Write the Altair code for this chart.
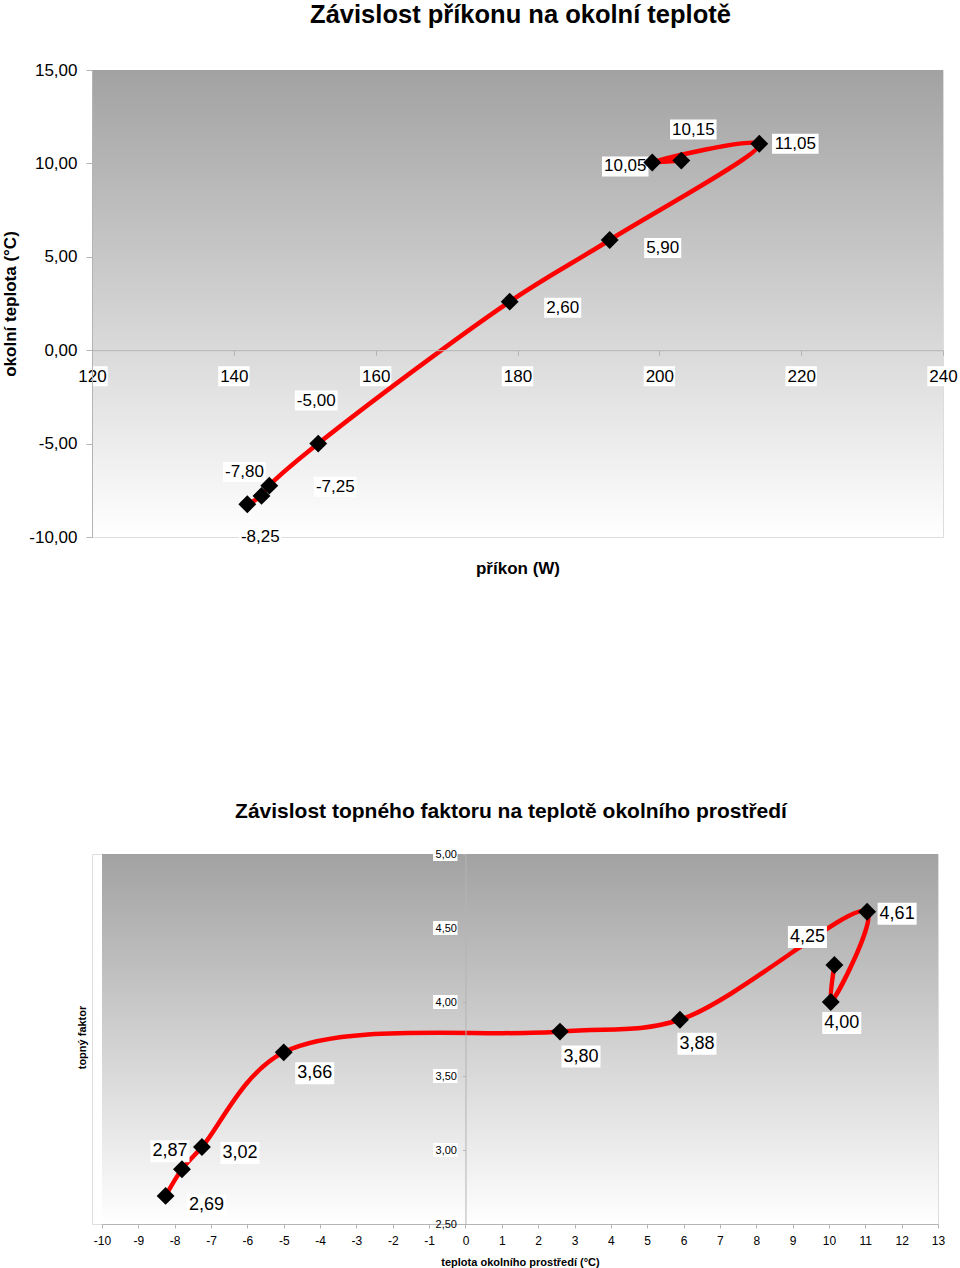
import altair as alt
import pandas as pd

# ---------------- data ----------------
temperature = [-8.25, -7.80, -7.25, -5.00, 2.60, 5.90, 11.05, 10.05, 10.15]
power_w = [141.9, 143.9, 145.0, 151.9, 178.9, 193.0, 214.1, 199.0, 203.1]
cop = [2.69, 2.87, 3.02, 3.66, 3.80, 3.88, 4.61, 4.00, 4.25]

power_ticks = [120, 140, 160, 180, 200, 220, 240]
temp_ticks = [-10, -5, 0, 5, 10, 15]
cop_ticks = [2.5, 3.0, 3.5, 4.0, 4.5, 5.0]
temp_x_ticks = list(range(-10, 14))

# ---------------- layout (label offsets in px) ----------------
top_label_offsets = [(13, 33), (-17, -24), (66, 1), (-2, -43), (53, 6), (53, 8), (36, 0), (-27, 4), (12, -31)]
bottom_label_offsets = [(41, 9), (-12, -18), (38, 6), (31, 21), (21, 25), (17, 24), (30, 2), (11, 21), (-27, -28)]

FONT = "Liberation Sans"
W1, H1 = 851, 467
W2, H2 = 846, 370
X2_LEFT = 10  # bottom plot starts 10px right of the top one

def fmt(v):
    return f"{v:.2f}".replace(".", ",")

df = pd.DataFrame({"idx": list(range(len(temperature))), "p": power_w, "t": temperature, "cop": cop})
df["t_lbl"] = [fmt(v) for v in temperature]
df["cop_lbl"] = [fmt(v) for v in cop]

def text_width(s, size):
    w = 0.0
    for ch in s:
        if ch.isdigit():
            w += 0.556
        elif ch == ",":
            w += 0.278
        elif ch == "-":
            w += 0.333
        else:
            w += 0.556
    return w * size

def box_shape(w, h):
    r = h / w
    return f"M-1,-{r:.4f}H1V{r:.4f}H-1Z"

grad = alt.Gradient(
    gradient="linear",
    stops=[alt.GradientStop(color="#a2a2a2", offset=0), alt.GradientStop(color="#ffffff", offset=1)],
    x1=0, x2=0, y1=0, y2=1,
)
one = pd.DataFrame({"a": [0]})
GRAY = "#b4b4b4"

# ---------------- top chart ----------------
x1 = alt.X(
    "p:Q",
    scale=alt.Scale(domain=[120, 240], nice=False, zero=False),
    axis=alt.Axis(
        values=power_ticks, format="d", orient="bottom", offset=-186.8,
        title="příkon (W)", titleFontSize=17, titleFontWeight="bold", titleFont=FONT,
        titleX=W1 / 2, titleY=218, titleBaseline="middle", titleAlign="center",
        labelFontSize=17, labelFont=FONT, labelColor="black", labelBaseline="middle",
        labelPadding=21, tickSize=5, tickColor=GRAY, domainColor=GRAY,
        grid=False, labelFlush=False, labelOverlap=False, zindex=1,
    ),
)
y1 = alt.Y(
    "t:Q",
    scale=alt.Scale(domain=[-10, 15], nice=False, zero=False),
    axis=alt.Axis(
        values=temp_ticks, format=".2f",
        title="okolní teplota (°C)", titleFontSize=17, titleFontWeight="bold", titleFont=FONT,
        titleX=-82, titleY=H1 / 2, titleBaseline="middle", titleAlign="center", titleAngle=270,
        labelFontSize=17, labelFont=FONT, labelColor="black",
        labelPadding=9, tickSize=6, tickColor=GRAY, domainColor=GRAY,
        grid=False, labelFlush=False, labelOverlap=False, zindex=1,
    ),
)

top_layers = [
    alt.Chart(one).mark_rect(color=grad).encode(
        x=alt.value(0), x2=alt.value(W1), y=alt.value(0), y2=alt.value(H1)
    )
]
# white boxes behind the x tick labels
tw = text_width("120", 17) + 3
top_layers.append(
    alt.Chart(pd.DataFrame({"p": power_ticks, "t": [0] * len(power_ticks)}))
    .mark_point(shape=box_shape(tw, 20), size=tw * tw, filled=True, color="white", opacity=1, yOffset=26)
    .encode(x=x1, y=y1)
)
top_layers.append(
    alt.Chart(df).mark_line(color="#ff0000", strokeWidth=4.5, interpolate="catmull-rom")
    .encode(x=x1, y=y1, order="idx:Q")
)
for i, (dx, dy) in enumerate(top_label_offsets):
    row = df.iloc[[i]]
    w = text_width(row["t_lbl"].iloc[0], 17) + 4
    top_layers.append(
        alt.Chart(row).mark_point(shape=box_shape(w, 20), size=w * w, filled=True, color="white",
                                  opacity=1, xOffset=dx, yOffset=dy)
        .encode(x=x1, y=y1)
    )
    top_layers.append(
        alt.Chart(row).mark_text(dx=dx, dy=dy, fontSize=17, font=FONT, color="black",
                                 align="center", baseline="middle")
        .encode(x=x1, y=y1, text="t_lbl:N")
    )
top_layers.append(
    alt.Chart(df).mark_point(shape="diamond", filled=True, color="black", size=320, opacity=1)
    .encode(x=x1, y=y1)
)

top = alt.layer(*top_layers).properties(
    width=W1, height=H1,
    title=alt.TitleParams(
        text="Závislost příkonu na okolní teplotě", fontSize=25.5, fontWeight="bold", font=FONT,
        anchor="middle", frame="group", baseline="bottom", offset=8, dx=3, color="black",
    ),
)

# ---------------- bottom chart ----------------
zero_px = X2_LEFT + (0 - (-10)) / 23 * (W2 - X2_LEFT)
x2 = alt.X(
    "t:Q",
    scale=alt.Scale(domain=[-10, 13], nice=False, zero=False, range=[X2_LEFT, W2]),
    axis=alt.Axis(
        values=temp_x_ticks, format="d",
        title="teplota okolního prostředí (°C)", titleFontSize=11, titleFontWeight="bold", titleFont=FONT,
        titleX=428, titleY=38, titleBaseline="middle", titleAlign="center",
        labelFontSize=12, labelFont=FONT, labelColor="black", labelBaseline="middle",
        labelPadding=12, tickSize=4, tickColor=GRAY, domainColor=GRAY,
        grid=False, labelFlush=False, labelOverlap=False, zindex=1,
    ),
)
y2 = alt.Y(
    "cop:Q",
    scale=alt.Scale(domain=[2.5, 5.0], nice=False, zero=False),
    axis=alt.Axis(
        values=cop_ticks, format=".2f", offset=-zero_px,
        title="topný faktor", titleFontSize=11, titleFontWeight="bold", titleFont=FONT,
        titleX=-(zero_px + 92 - 82), titleY=183, titleBaseline="middle", titleAlign="center", titleAngle=270,
        labelFontSize=11, labelFont=FONT, labelColor="black",
        labelPadding=6, tickSize=3, tickColor=GRAY, domainColor=GRAY,
        grid=False, labelFlush=False, labelOverlap=False, zindex=1,
    ),
)

bot_layers = [
    alt.Chart(one).mark_rect(color=grad).encode(
        x=alt.value(X2_LEFT), x2=alt.value(W2), y=alt.value(0), y2=alt.value(H2)
    )
]
bw = text_width("5,00", 11) + 3
bot_layers.append(
    alt.Chart(pd.DataFrame({"t": [0] * len(cop_ticks), "cop": cop_ticks}))
    .mark_point(shape=box_shape(bw, 14), size=bw * bw, filled=True, color="white", opacity=1,
                xOffset=-9 - bw / 2 + 1)
    .encode(x=x2, y=y2)
)
bot_layers.append(
    alt.Chart(df).mark_line(color="#ff0000", strokeWidth=4.5, interpolate="catmull-rom")
    .encode(x=x2, y=y2, order="idx:Q")
)
for i, (dx, dy) in enumerate(bottom_label_offsets):
    row = df.iloc[[i]]
    w = text_width(row["cop_lbl"].iloc[0], 18) + 4
    bot_layers.append(
        alt.Chart(row).mark_point(shape=box_shape(w, 22), size=w * w, filled=True, color="white",
                                  opacity=1, xOffset=dx, yOffset=dy)
        .encode(x=x2, y=y2)
    )
    bot_layers.append(
        alt.Chart(row).mark_text(dx=dx, dy=dy, fontSize=18, font=FONT, color="black",
                                 align="center", baseline="middle")
        .encode(x=x2, y=y2, text="cop_lbl:N")
    )
bot_layers.append(
    alt.Chart(df).mark_point(shape="diamond", filled=True, color="black", size=320, opacity=1)
    .encode(x=x2, y=y2)
)

bottom = alt.layer(*bot_layers).properties(
    width=W2, height=H2,
    title=alt.TitleParams(
        text="Závislost topného faktoru na teplotě okolního prostředí", fontSize=21, fontWeight="bold",
        font=FONT, anchor="middle", frame="group", baseline="bottom", offset=4, dx=-4, color="black",
    ),
)

chart = (
    alt.vconcat(top, bottom, spacing=223)
    .properties(padding={"left": 0, "top": 2, "right": 0, "bottom": 0})
    .configure_view(stroke=None)
    .configure(
        font=FONT,
        locale={"number": {"decimal": ",", "thousands": " ", "grouping": [3],
                           "currency": ["", " Kč"], "minus": "-"}},
    )
)

chart.save("out.html", embed_options={"renderer": "svg", "actions": False})
